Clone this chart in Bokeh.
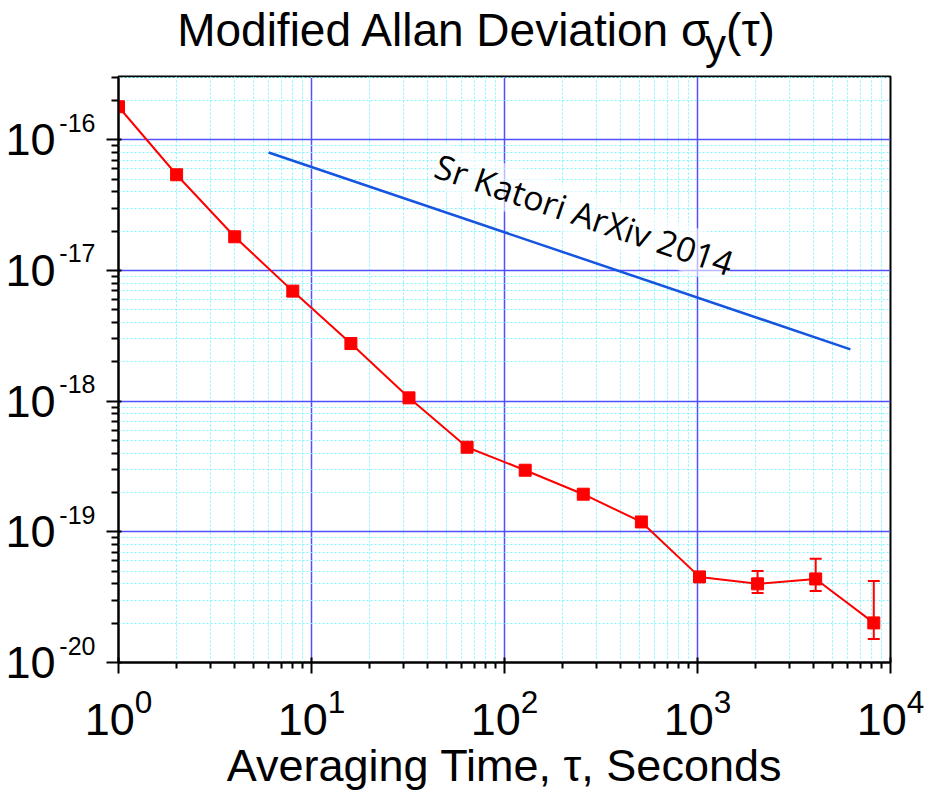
from bokeh.plotting import figure
from bokeh.models import (FixedTicker, Label, Whisker, ColumnDataSource, TeeHead,
                          LinearAxis, LogAxis, Range1d, LinearScale)
from bokeh.embed import file_html
from bokeh.resources import INLINE

# ---- data ----
tau = [1, 2, 4, 8, 16, 32, 64, 128, 256, 512, 1024, 2048, 4096, 8192]
mdev = [1.79e-16, 5.4e-17, 1.81e-17, 6.95e-18, 2.76e-18, 1.06e-18, 4.44e-19,
        2.96e-19, 1.94e-19, 1.19e-19, 4.52e-20, 4.0e-20, 4.36e-20, 2.01e-20]
err_tau = [1024, 2048, 4096, 8192]
err_upper = [4.8e-20, 5.02e-20, 6.21e-20, 4.21e-20]
err_lower = [4.25e-20, 3.41e-20, 3.53e-20, 1.51e-20]

katori_tau = [6, 6200]
katori_dev = [8.0e-17, 2.49e-18]
katori_label = "Sr Katori ArXiv 2014"

x_major = [1, 10, 100, 1000, 10000]
y_major = [1e-20, 1e-19, 1e-18, 1e-17, 1e-16]
y_base = ["10", "10", "10", "10", "10"]
y_expo = ["-20", "-19", "-18", "-17", "-16"]
x_minor = [m * 10 ** k for k in range(0, 4) for m in range(2, 10)]
y_minor = [m * 10.0 ** k for k in range(-20, -15) for m in range(2, 10)]

title_main = "Modified Allan Deviation \u03c3"
title_sub = "y"
title_end = "(\u03c4)"
x_title = "Averaging Time, \u03c4, Seconds"

FONT = "Liberation Sans"
YDEC = 130.7     # px per decade on y

p = figure(width=940, height=793, x_axis_type="log", y_axis_type="log",
           x_range=(1, 1e4), y_range=(1e-20, 3.05e-16),
           output_backend="svg", toolbar_location=None,
           min_border_left=118, min_border_right=50,
           min_border_top=76, min_border_bottom=131)
p.background_fill_color = "white"
p.border_fill_color = "white"
p.outline_line_color = "black"
p.outline_line_width = 2
p.outline_line_alpha = 1

for ax, major, minor in ((p.xaxis[0], x_major, x_minor), (p.yaxis[0], y_major, y_minor)):
    ax.ticker = FixedTicker(ticks=major, minor_ticks=minor)
    ax.axis_line_width = 2
    ax.axis_line_color = "black"
    ax.major_tick_line_width = 2
    ax.minor_tick_line_width = 2
    ax.major_tick_line_color = "black"
    ax.minor_tick_line_color = "black"
    ax.minor_tick_in = 0

# x axis: native 10^n labels
xa = p.xaxis[0]
xa.major_tick_out = 11
xa.major_tick_in = 5
xa.minor_tick_out = 6
xa.major_label_text_font = FONT
xa.major_label_text_font_size = "45px"
xa.major_label_text_color = "black"
xa.major_label_standoff = 15
xa.axis_label = x_title
xa.axis_label_text_font = FONT
xa.axis_label_text_font_size = "45px"
xa.axis_label_text_font_style = "normal"
xa.axis_label_text_color = "black"
xa.axis_label_standoff = 2

# y axis: ticks only, labels built from helper axes below
ya = p.yaxis[0]
ya.major_label_overrides = {t: "" for t in y_major}
ya.major_label_text_font_size = "1px"
ya.major_label_standoff = 0
ya.major_tick_out = 12
ya.major_tick_in = 3
ya.minor_tick_out = 7

for g in (p.xgrid[0], p.ygrid[0]):
    g.grid_line_color = "#5050ff"
    g.grid_line_width = 1.5
    g.minor_grid_line_color = "#7ff5ff"
    g.minor_grid_line_width = 1
    g.minor_grid_line_dash = "2 2"


def text_axis(cls, ticks, texts, size, standoff, **kw):
    return cls(ticker=FixedTicker(ticks=ticks),
               major_label_overrides=dict(zip(ticks, texts)),
               axis_line_color=None, major_tick_line_color=None,
               minor_tick_line_color=None, major_label_text_font=FONT,
               major_label_text_font_size=size, major_label_text_color="black",
               major_label_standoff=standoff, major_tick_out=0, major_tick_in=0, **kw)


# y tick labels: "10" with raised exponent
p.add_layout(text_axis(LogAxis, [t * 10 ** (17 / YDEC) for t in y_major], y_expo,
                       "25px", 11), "left")
p.add_layout(text_axis(LogAxis, y_major, y_base, "45px", 1), "left")

# title drawn as labels of invisible axes above the frame (px range = frame width)
p.extra_x_ranges = {"px": Range1d(0, 772)}
p.extra_x_scales = {"px": LinearScale()}
sub_pos = [597]
title_pos = [326, 632]
p.add_layout(text_axis(LinearAxis, sub_pos, [title_sub], "42px", 9,
                       x_range_name="px"), "above")
title_axis = text_axis(LinearAxis, title_pos, [title_main, title_end], "46px", -38,
                       x_range_name="px")
title_axis.major_label_text_line_height = 1.0
p.add_layout(title_axis, "above")

# Katori reference line
p.line(katori_tau, katori_dev, line_color="#1555e0", line_width=2.5)

# data with error bars
src = ColumnDataSource(dict(x=err_tau, upper=err_upper, lower=err_lower))
p.add_layout(Whisker(source=src, base="x", upper="upper", lower="lower",
                     line_color="red", line_width=2,
                     upper_head=TeeHead(size=12, line_color="red", line_width=2),
                     lower_head=TeeHead(size=12, line_color="red", line_width=2)))
p.line(tau, mdev, line_color="red", line_width=2)
p.scatter(tau, mdev, marker="square", size=12, fill_color="red", line_color="red")

# annotation
p.add_layout(Label(x=318, y=498, x_units="screen", y_units="screen", text=katori_label,
                   angle=-0.325, text_font="Open Sans", text_font_size="34px",
                   text_color="black", text_baseline="alphabetic", text_align="left",
                   background_fill_color="white", background_fill_alpha=0.6))

open("out.html", "w").write(file_html(p, INLINE))
